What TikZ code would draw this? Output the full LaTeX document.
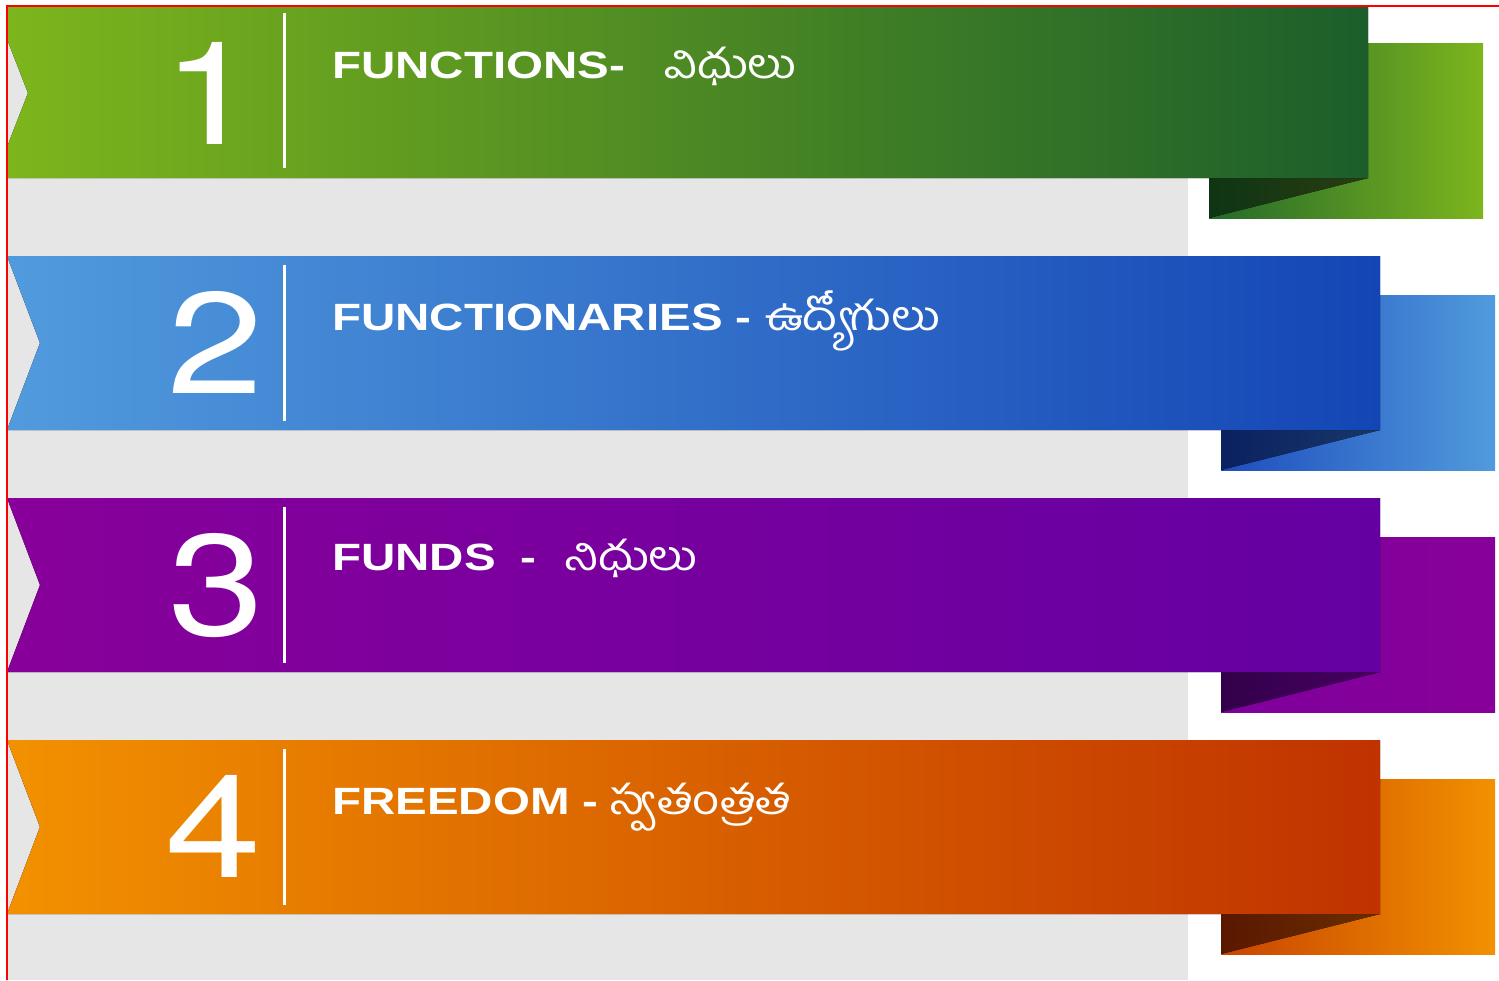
\documentclass[tikz,border=0pt]{standalone}
\usepackage{fontspec}
\newfontfamily\numfont[FakeStretch=1.2]{TeX Gyre Heros}
\newfontfamily\engfont[FakeStretch=1.25]{Liberation Sans}
\newfontfamily\telfont[Script=Telugu,FakeStretch=1.15]{Hind Guntur}
\definecolor{bggrey}{HTML}{E6E6E6}
% green
\definecolor{gA}{HTML}{7DB51C}\definecolor{gB}{HTML}{1C5E2B}
\definecolor{gBk}{HTML}{24692C}\definecolor{gF1}{HTML}{0E3513}\definecolor{gF2}{HTML}{2A3D12}
% blue
\definecolor{bA}{HTML}{519BDD}\definecolor{bB}{HTML}{1445B5}
\definecolor{bBk}{HTML}{1E4DBE}\definecolor{bF1}{HTML}{0B2160}\definecolor{bF2}{HTML}{183868}
% purple
\definecolor{pA}{HTML}{88009A}\definecolor{pB}{HTML}{6400A2}
\definecolor{pBk}{HTML}{7E009C}\definecolor{pF1}{HTML}{33004A}\definecolor{pF2}{HTML}{470062}
% orange
\definecolor{oA}{HTML}{F29100}\definecolor{oB}{HTML}{C03200}
\definecolor{oBk}{HTML}{C84400}\definecolor{oF1}{HTML}{5A1800}\definecolor{oF2}{HTML}{6A2E00}
\tikzset{
  numlbl/.style={text=white, inner sep=0pt, anchor=base, font=\numfont\fontsize{144}{144}\selectfont},
  englbl/.style={text=white, inner sep=0pt, anchor=base west, font=\engfont\bfseries\fontsize{38}{40}\selectfont},
  tellbl/.style={text=white, inner sep=0pt, anchor=base west, font=\telfont\fontsize{41}{44}\selectfont},
  sepline/.style={white, line width=3pt}
}
\begin{document}
\begin{tikzpicture}[x=1pt,y=-1pt]
\useasboundingbox (0,0) rectangle (1499,980);
\fill[white] (0,0) rectangle (1499,980);
\fill[bggrey] (7,6) rectangle (1188,980);

% ---------- ribbon 1 (green)
\fill[left color=gBk, right color=gA] (1209,43) rectangle (1483,218);
\fill[left color=gF1, right color=gF2] (1209,178) -- (1368,178) -- (1209,218) -- cycle;
\fill[left color=gA, right color=gB] (7,7) -- (1368,7) -- (1368,178) -- (7,178) -- (7,147) -- (28,93) -- (7,39) -- cycle;
\draw[sepline] (284,13) -- (284,168);
\node[numlbl] (n1) at (211,144) {1};
\node[englbl] (e1) at (332,78) {FUNCTIONS-};
\node[tellbl] (t1) at (664,78) {విధులు};

% ---------- ribbon 2 (blue)
\fill[left color=bBk, right color=bA] (1221,295) rectangle (1495,470);
\fill[left color=bF1, right color=bF2] (1221,430) -- (1380,430) -- (1221,470) -- cycle;
\fill[left color=bA, right color=bB] (7,256) -- (1380,256) -- (1380,430) -- (7,430) -- (40,343) -- cycle;
\draw[sepline] (284,265) -- (284,421);
\node[numlbl] (n2) at (216,393) {2};
\node[englbl] (e2) at (332,330) {FUNCTIONARIES -};
\node[tellbl] (t2) at (765,330) {ఉద్యోగులు};

% ---------- ribbon 3 (purple)
\fill[left color=pBk, right color=pA] (1221,537) rectangle (1495,712);
\fill[left color=pF1, right color=pF2] (1221,672) -- (1380,672) -- (1221,712) -- cycle;
\fill[left color=pA, right color=pB] (7,498) -- (1380,498) -- (1380,672) -- (7,672) -- (40,585) -- cycle;
\draw[sepline] (284,507) -- (284,663);
\node[numlbl] (n3) at (217,635) {3};
\node[englbl] (e3) at (332,570) {FUNDS\hspace*{25pt}-};
\node[tellbl] (t3) at (564,570) {నిధులు};

% ---------- ribbon 4 (orange)
\fill[left color=oBk, right color=oA] (1221,779) rectangle (1495,954);
\fill[left color=oF1, right color=oF2] (1221,914) -- (1380,914) -- (1221,954) -- cycle;
\fill[left color=oA, right color=oB] (7,740) -- (1380,740) -- (1380,914) -- (7,914) -- (40,827) -- cycle;
\draw[sepline] (284,749) -- (284,905);
\node[numlbl] (n4) at (214,877) {4};
\node[englbl] (e4) at (332,814) {FREEDOM -};
\node[tellbl] (t4) at (610,814) {స్వతంత్రత};

% red frame lines
\draw[red, line width=2pt] (7,980) -- (7,6) -- (1499,6);
\end{tikzpicture}
\end{document}
